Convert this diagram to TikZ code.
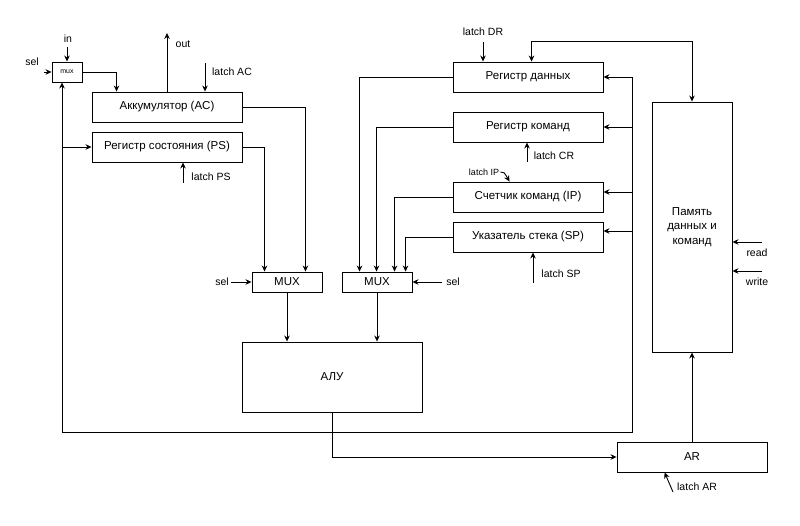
\documentclass[tikz,border=0pt]{standalone}
\usepackage{fontspec}
\setmainfont{Liberation Sans}
\usetikzlibrary{arrows.meta,calc}
\begin{document}
\begin{tikzpicture}[x=1pt,y=-1pt, line width=0.9pt,
 box/.style={draw, rectangle, inner sep=0pt, font=\fontsize{11.5}{14.5}\selectfont, align=center},
 arr/.style={-{Stealth[length=6pt,width=5.5pt]}},
 darr/.style={{Stealth[length=6pt,width=5.5pt]}-{Stealth[length=6pt,width=5.5pt]}},
 lbl/.style={font=\fontsize{10.5}{12}\selectfont, inner sep=1pt}]
\useasboundingbox (0,0) rectangle (800,526);
\fill[white] (0,0) rectangle (800,526);

% boxes
\node[box, minimum width=30pt, minimum height=20pt, font=\fontsize{7}{8}\selectfont] (mux) at (67,72) {mux};
\node[box, minimum width=150pt, minimum height=30pt] (ac) at (167,107) {Аккумулятор (AC)};
\node[box, minimum width=150pt, minimum height=30pt] (ps) at (167,147) {Регистр состояния (PS)};
\node[box, minimum width=70pt, minimum height=20pt] (mux1) at (287,282) {MUX};
\node[box, minimum width=70pt, minimum height=20pt] (mux2) at (377,282) {MUX};
\node[box, minimum width=150pt, minimum height=30pt] (dr) at (528,77) {Регистр данных};
\node[box, minimum width=150pt, minimum height=30pt] (cr) at (528,127) {Регистр команд};
\node[box, minimum width=150pt, minimum height=30pt] (ip) at (528,197) {Счетчик команд (IP)};
\node[box, minimum width=150pt, minimum height=30pt] (sp) at (528,237) {Указатель стека (SP)};
\node[box, minimum width=80pt, minimum height=250pt] (mem) at (692,227) {Память\\данных и\\команд};
\node[box, minimum width=180pt, minimum height=70pt] (alu) at (332,377) {АЛУ};
\node[box, minimum width=150pt, minimum height=30pt] (ar) at (692,457) {AR};

% labels
\node[lbl] (inl) at (68,39) {in};
\node[lbl] (sel0) at (32,62) {sel};
\node[lbl] (outl) at (183,44) {out};
\node[lbl] (lacl) at (232,72) {latch AC};
\node[lbl] (lpsl) at (211,177) {latch PS};
\node[lbl] (sel1) at (222,282) {sel};
\node[lbl] (sel2) at (453,282) {sel};
\node[lbl] (ldrl) at (483,32) {latch DR};
\node[lbl] (lcrl) at (554,156) {latch CR};
\node[lbl, font=\fontsize{9}{10}\selectfont] (lipl) at (484,172) {latch IP};
\node[lbl] (lspl) at (561,274) {latch SP};
\node[lbl] (readl) at (757,253) {read};
\node[lbl] (writel) at (757,282) {write};
\node[lbl] (larl) at (697,487) {latch AR};

% free ends
\coordinate (inS) at (67,47);
\coordinate (sel0S) at (44,72);
\coordinate (outE) at (167,33);
\coordinate (lacS) at (205,63);
\coordinate (lpsS) at (183,183);
\coordinate (sel1S) at (231,282);
\coordinate (sel2S) at (442,282);
\coordinate (ldrS) at (483,42);
\coordinate (lcrS) at (527,162);
\coordinate (lspS) at (533,283);
\coordinate (readS) at (762,242);
\coordinate (writeS) at (762,271);
\coordinate (larS) at (673,492);
\coordinate (bt) at (632,77);
\coordinate (bb) at (632,432);
\coordinate (bl) at (62,432);

% connectors
\draw[arr] (inS) -- (mux.north);
\draw[arr] (sel0S) -- (mux.west);
\draw[arr] (mux.east) -| ($(ac.north west)+(25,0)$);
\draw[arr] (ac.north) -- (outE);
\draw[arr] (lacS) -- (lacS |- ac.north);
\draw[arr] (lpsS) -- (lpsS |- ps.south);
\draw[arr] (ac.east) -| ($(mux1.north east)+(-17,0)$);
\draw[arr] (ps.east) -| ($(mux1.north west)+(13,0)$);
\draw[arr] (sel1S) -- (mux1.west);
\draw[arr] (sel2S) -- (mux2.east);
\draw[arr] (dr.west) -| ($(mux2.north west)+(18,0)$);
\draw[arr] (cr.west) -| ($(mux2.north west)+(35,0)$);
\draw[arr] (ip.west) -| ($(mux2.north west)+(53,0)$);
\draw[arr] (sp.west) -| ($(mux2.north west)+(64,0)$);
\draw[arr] (ldrS) -- (ldrS |- dr.north);
\draw[darr] ($(dr.north west)+(79,0)$) |- ($(mem.north)+(0,-60)$) -| (mem.north);
\draw[arr] (lcrS) -- (lcrS |- cr.south);
\draw[arr] (lipl.east) .. controls (504,172) .. ($(ip.north west)+(57,0)$);
\draw[arr] (lspS) -- (lspS |- sp.south);
\draw[arr] (bt) -- (bb) -- (bl) -- (bl |- mux.south);
\draw[arr] (bl |- ps.west) -- (ps.west);
\draw[arr] (bt) -- (dr.east);
\draw[arr] (cr.east -| bt) -- (cr.east);
\draw[arr] ($(ip.east -| bt)+(0,-5)$) -- ($(ip.east)+(0,-5)$);
\draw[arr] ($(sp.east -| bt)+(0,-6)$) -- ($(sp.east)+(0,-6)$);
\draw[arr] (mux1.south) -- (mux1.south |- alu.north);
\draw[arr] (mux2.south) -- (mux2.south |- alu.north);
\draw[arr] (alu.south) |- (ar.west);
\draw[arr] (ar.north) -- (mem.south);
\draw[arr] (readS) -- (readS -| mem.east);
\draw[arr] (writeS) -- (writeS -| mem.east);
\draw[arr] (larS) -- ($(ar.south west)+(48,0)$);
\end{tikzpicture}
\end{document}
